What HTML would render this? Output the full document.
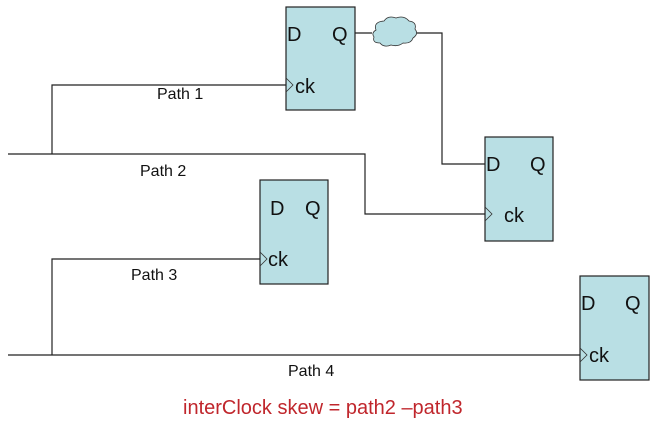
<!DOCTYPE html>
<html><head><style>body{margin:0;background:#fff}</style></head><body>
<svg width="660" height="426" viewBox="0 0 660 426" xmlns="http://www.w3.org/2000/svg" font-family="Liberation Sans, sans-serif">
<g fill="#b9dfe4" stroke="#222" stroke-width="1.2">
<rect x="286" y="7" width="69" height="103"/>
<rect x="485" y="137" width="68" height="104"/>
<rect x="260" y="180" width="68" height="104"/>
<rect x="580" y="276" width="69" height="104"/>
</g>
<g fill="none" stroke="#222" stroke-width="1.2">
<polyline points="52,154 52,85 286,85"/>
<polyline points="8,154 365,154 365,214 485,214"/>
<polyline points="52,355 52,259 260,259"/>
<polyline points="8,355 580,355"/>
<polyline points="355,33 372,33"/>
<polyline points="414,33 442,33 442,164 485,164"/>
</g>
<g fill="none" stroke="#333" stroke-width="0.8">
<polyline points="286,78 293,85 286,92"/>
<polyline points="485,207 492,214 485,221"/>
<polyline points="260,252 267,259 260,266"/>
<polyline points="580,348 587,355 580,362"/>
</g>
<path d="M376,30 q-3,-8 8,-9 q4,-6 12,-3 q8,-3 13,3 q8,1 6,8 q4,5 -2,9 q-2,6 -10,5 q-5,4 -12,2 q-7,3 -11,-2 q-8,0 -6,-6 q-3,-4 2,-7z" fill="#b9dfe4" stroke="#333" stroke-width="0.8"/>
<g font-size="20" fill="#111">
<text x="287" y="41">D</text><text x="332" y="41">Q</text><text x="295" y="93">ck</text>
<text x="486" y="171">D</text><text x="530" y="171">Q</text><text x="504" y="222">ck</text>
<text x="270" y="215">D</text><text x="305" y="215">Q</text><text x="268" y="266">ck</text>
<text x="581" y="310">D</text><text x="625" y="310">Q</text><text x="589" y="362">ck</text>
</g>
<g font-size="16" fill="#111">
<text x="157" y="99">Path 1</text>
<text x="140" y="176">Path 2</text>
<text x="131" y="280">Path 3</text>
<text x="288" y="376">Path 4</text>
</g>
<text x="183" y="414" font-size="20" fill="#c0262c">interClock skew = path2 –path3</text>
</svg>
</body></html>
